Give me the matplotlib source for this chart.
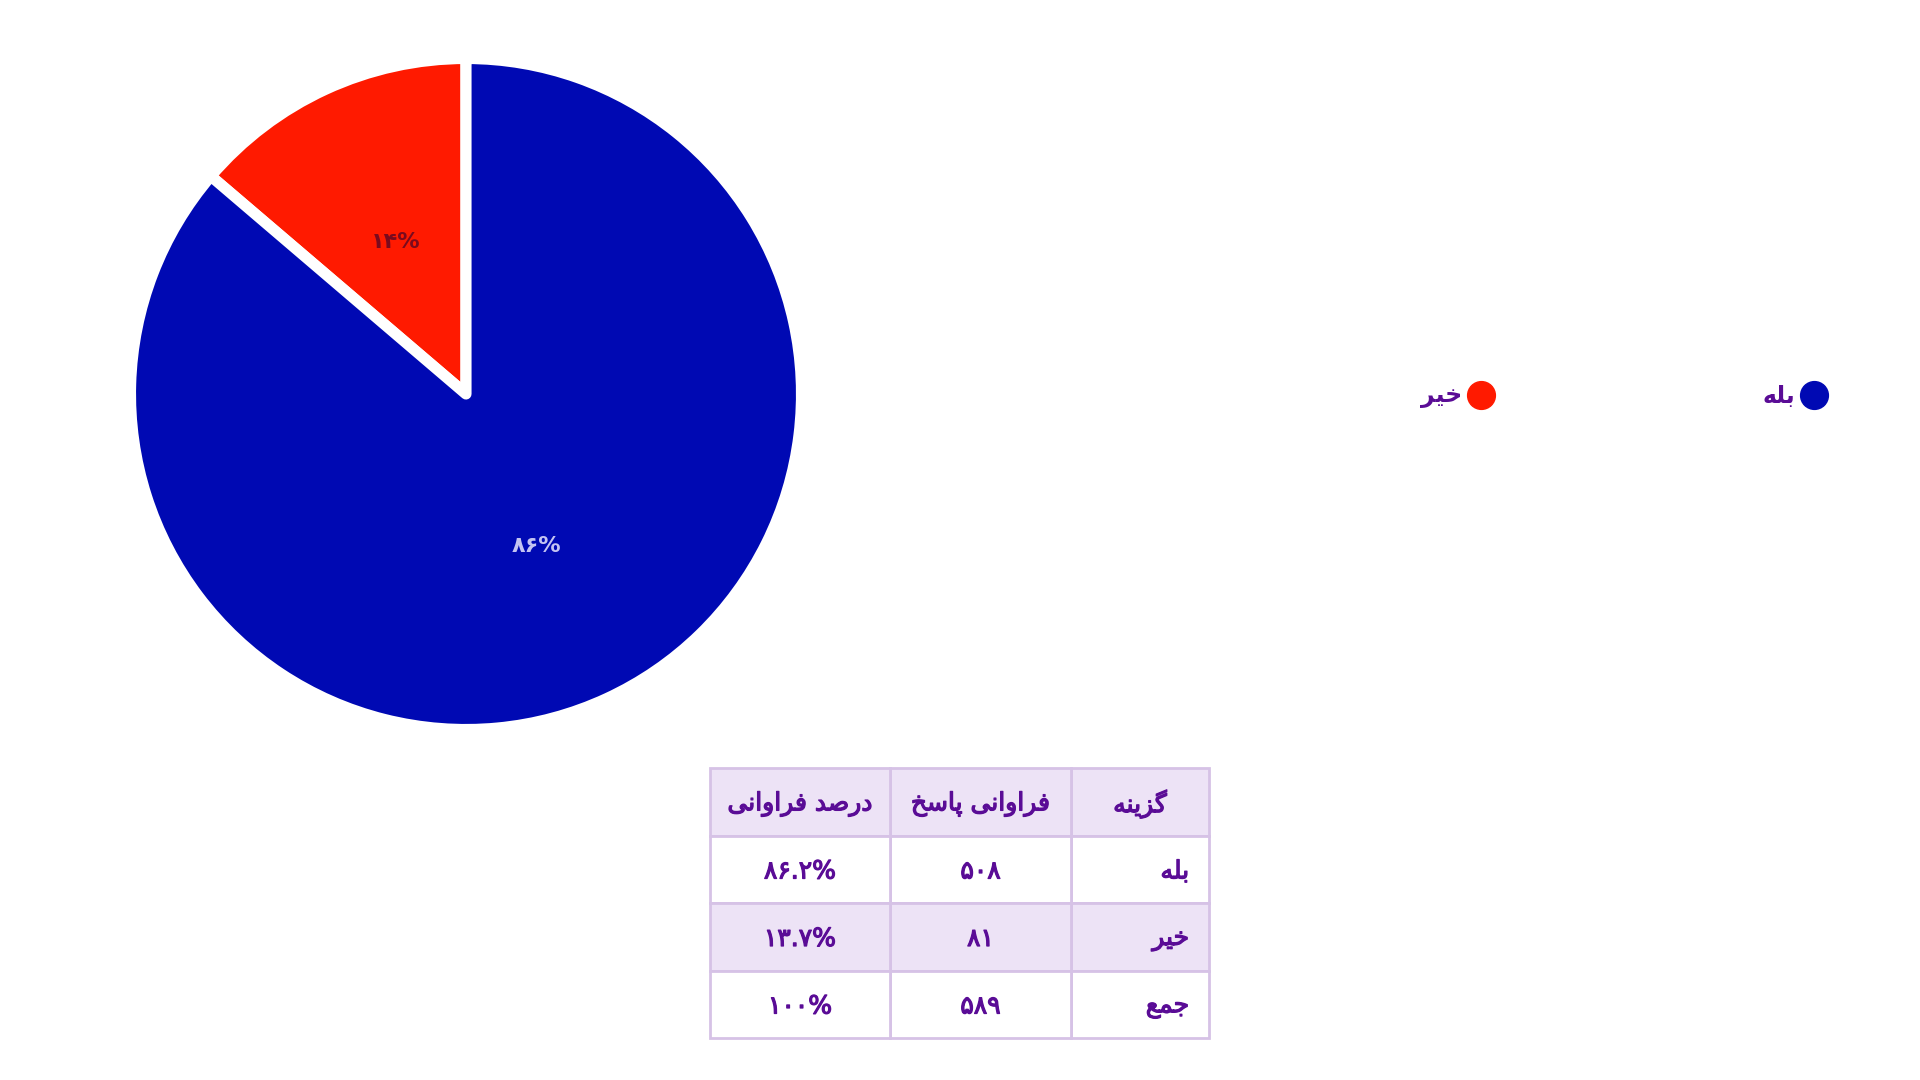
import matplotlib
matplotlib.use("Agg")
import matplotlib.pyplot as plt
import matplotlib.patheffects as pe
from matplotlib.patches import Rectangle

# ---------------- data ----------------
categories = ['بله', 'خیر']
counts = [508, 81]
percents = [86.2, 13.7]
total_label = 'جمع'
total_percent = 100
headers = ['گزینه', 'فراوانی پاسخ', 'درصد فراوانی']
slice_colors = ['#0009B3', '#FF1A00']
label_colors = ['#C4C4F2', '#7A0A1E']

# ---------------- minimal Persian shaping ----------------
FORMS = {
    'ا': ('\uFE8D', '\uFE8E', None, None),
    'ب': ('\uFE8F', '\uFE90', '\uFE91', '\uFE92'),
    'پ': ('\uFB56', '\uFB57', '\uFB58', '\uFB59'),
    'ت': ('\uFE95', '\uFE96', '\uFE97', '\uFE98'),
    'ج': ('\uFE9D', '\uFE9E', '\uFE9F', '\uFEA0'),
    'خ': ('\uFEA5', '\uFEA6', '\uFEA7', '\uFEA8'),
    'د': ('\uFEA9', '\uFEAA', None, None),
    'ر': ('\uFEAD', '\uFEAE', None, None),
    'ز': ('\uFEAF', '\uFEB0', None, None),
    'س': ('\uFEB1', '\uFEB2', '\uFEB3', '\uFEB4'),
    'ص': ('\uFEB9', '\uFEBA', '\uFEBB', '\uFEBC'),
    'ع': ('\uFEC9', '\uFECA', '\uFECB', '\uFECC'),
    'ف': ('\uFED1', '\uFED2', '\uFED3', '\uFED4'),
    'گ': ('\uFB92', '\uFB93', '\uFB94', '\uFB95'),
    'ل': ('\uFEDD', '\uFEDE', '\uFEDF', '\uFEE0'),
    'م': ('\uFEE1', '\uFEE2', '\uFEE3', '\uFEE4'),
    'ن': ('\uFEE5', '\uFEE6', '\uFEE7', '\uFEE8'),
    'ه': ('\uFEE9', '\uFEEA', '\uFEEB', '\uFEEC'),
    'و': ('\uFEED', '\uFEEE', None, None),
    'ی': ('\uFBFC', '\uFBFD', '\uFBFE', '\uFBFF'),
}


def shape(s):
    chars = list(s)
    out = []
    for i, c in enumerate(chars):
        if c not in FORMS:
            out.append(c)
            continue
        iso, fin, ini, med = FORMS[c]
        prev = chars[i - 1] if i > 0 else None
        nxt = chars[i + 1] if i + 1 < len(chars) else None
        pj = prev in FORMS and FORMS[prev][2] is not None
        nj = (nxt in FORMS) and ini is not None
        if pj and nj:
            out.append(med)
        elif pj:
            out.append(fin)
        elif nj:
            out.append(ini)
        else:
            out.append(iso)
    return ''.join(reversed(out))


def fa(s):
    return str(s).translate(str.maketrans('0123456789', '۰۱۲۳۴۵۶۷۸۹'))


plt.rcParams['font.family'] = ['DejaVu Sans']
TXT = '#5A0C96'
medium = [pe.withStroke(linewidth=0.9, foreground=TXT)]

W, H = 1920, 1080
fig = plt.figure(figsize=(W / 100, H / 100), dpi=100)
fig.patch.set_facecolor('white')

# ---------------- pie ----------------
cx, cy, R = 466, 394, 335.5
axp = fig.add_axes([(cx - R) / W, 1 - (cy + R) / H, 2 * R / W, 2 * R / H])
wedges, _, autotexts = axp.pie(
    counts[::-1], colors=slice_colors[::-1], startangle=90, counterclock=True,
    autopct=lambda p: fa(f"{p:.0f}") + '%', pctdistance=0.5, radius=1.0,
    wedgeprops=dict(edgecolor='white', linewidth=8, joinstyle='round'),
    textprops=dict(fontsize=16, fontweight='bold'))
for t, c in zip(autotexts, label_colors[::-1]):
    t.set_color(c)
axp.set_xlim(-1.0, 1.0)
axp.set_ylim(-1.0, 1.0)
axp.set_aspect('equal')
axp.axis('off')

# ---------------- overlay in pixel coordinates ----------------
ax = fig.add_axes([0, 0, 1, 1])
ax.set_xlim(0, W)
ax.set_ylim(H, 0)
ax.axis('off')

# legend (right-to-left)
leg_x = [1814, 1481]
for xm, lab, col in zip(leg_x, categories, slice_colors):
    ax.scatter([xm], [395], s=400, color=col, zorder=3)
    ax.text(xm - 19, 396, shape(lab), ha='right', va='center', fontsize=17,
            color=TXT, fontweight='bold')

# table
col_edges = [710, 890, 1071, 1209]
row_edges = [768, 836, 903, 971, 1038]
border = '#D6C2E6'
bg = '#EDE3F6'
rows = [[shape(categories[0]), fa(counts[0]), fa(percents[0]) + '%'],
        [shape(categories[1]), fa(counts[1]), fa(percents[1]) + '%'],
        [shape(total_label), fa(sum(counts)), fa(total_percent) + '%']]
header_cells = [shape(h) for h in headers]
all_rows = [header_cells] + rows
for r in range(len(all_rows)):
    y0, y1 = row_edges[r], row_edges[r + 1]
    fill = bg if r in (0, 2) else 'white'
    for c in range(3):
        # columns run right to left
        x1 = col_edges[3 - c]
        x0 = col_edges[2 - c]
        ax.add_patch(Rectangle((x0, y0), x1 - x0, y1 - y0, facecolor=fill,
                               edgecolor=border, linewidth=2))
        txt = all_rows[r][c]
        ym = (y0 + y1) / 2 + 2
        if c == 0 and r > 0:
            ax.text(x1 - 20, ym, txt, ha='right', va='center', fontsize=18,
                    color=TXT, path_effects=medium)
        else:
            ax.text((x0 + x1) / 2, ym, txt, ha='center', va='center',
                    fontsize=18, color=TXT, path_effects=medium)

fig.savefig('out.png', dpi=100, facecolor='white')
